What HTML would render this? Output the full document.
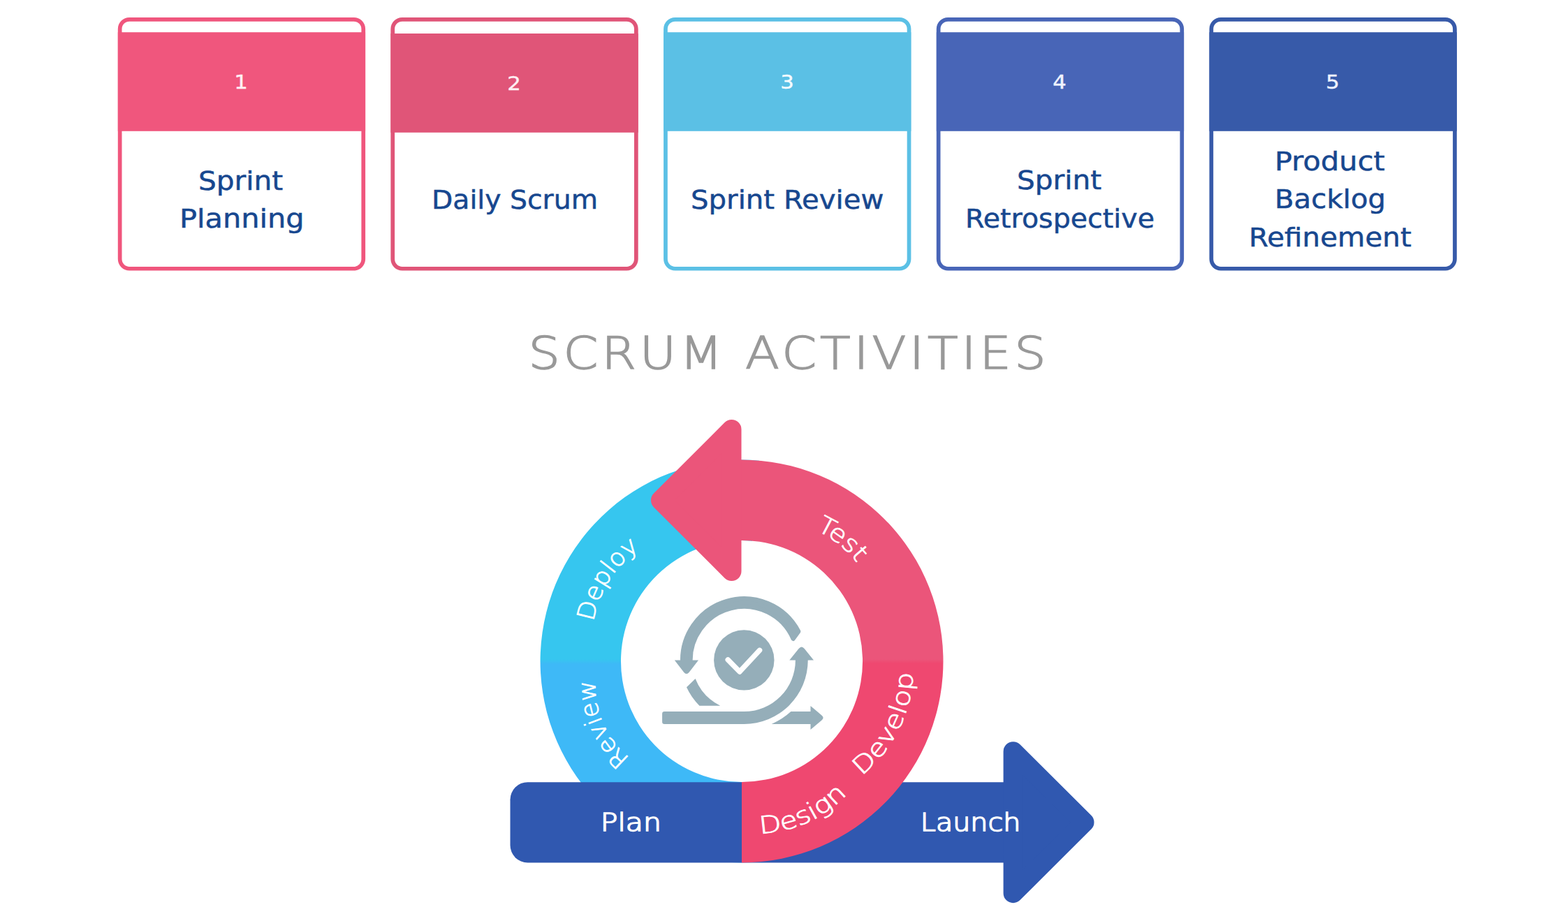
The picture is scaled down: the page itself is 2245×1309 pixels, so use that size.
<!DOCTYPE html>
<html lang="en">
<head>
<meta charset="utf-8">
<title>Scrum Activities</title>
<style>
html,body{margin:0;padding:0;background:#fff}
body{width:2245px;height:1309px;position:relative;overflow:hidden;font-family:"DejaVu Sans","Liberation Sans",sans-serif}
.card{position:absolute;top:25px;width:354px;height:363px}
.card .fr{position:absolute;left:-2px;top:-2px}
.card .hd{position:absolute;left:0;width:100%;color:#FFF1F4;font-size:27px;font-weight:400;text-align:center}
.card .hd span{position:absolute;left:0;width:100%;top:50%;line-height:40px;margin-top:-19.3px;-webkit-text-stroke:0.4px currentColor;transform:scaleX(1.14)}
.card p{position:absolute;margin:0;white-space:nowrap;color:#17478F;font-size:38px;line-height:54px;height:54px;-webkit-text-stroke:0.5px #17478F;transform-origin:0 0}
h1{position:absolute;left:0;top:0;margin:0;width:2245px;text-align:center;font-weight:200;color:#999999;white-space:nowrap}
svg{position:absolute;left:0;top:0}
svg text{font-family:"DejaVu Sans","Liberation Sans",sans-serif;fill:#fff}
</style>
</head>
<body>
<section class="card" style="left:168px"><svg class="fr" width="360" height="368" viewBox="0 0 360 368" aria-hidden="true"><rect x="5.65" y="4.85" width="348.60" height="356.90" rx="13.65" fill="#fff" stroke="#F0567D" stroke-width="5.7"/><rect x="2.80" y="23.20" width="354.30" height="141.60" fill="#F0567D"/></svg><div class="hd" style="top:21px;height:142px;color:#FFF0F4"><span>1</span></div><p style="left:116.1px;top:206.5px;transform:scaleX(1.0679)">Sprint</p><p style="left:89.1px;top:260.7px;transform:scaleX(1.0905)">Planning</p></section>
<section class="card" style="left:559px"><svg class="fr" width="360" height="368" viewBox="0 0 360 368" aria-hidden="true"><rect x="5.25" y="4.85" width="348.60" height="356.90" rx="13.65" fill="#fff" stroke="#E05578" stroke-width="5.7"/><rect x="2.40" y="25.00" width="354.30" height="141.80" fill="#E05578"/></svg><div class="hd" style="top:23px;height:142px;color:#FFEFF3"><span>2</span></div><p style="left:59.2px;top:233.5px;transform:scaleX(1.0351)">Daily Scrum</p></section>
<section class="card" style="left:950px"><svg class="fr" width="360" height="368" viewBox="0 0 360 368" aria-hidden="true"><rect x="4.95" y="4.85" width="348.60" height="356.90" rx="13.65" fill="#fff" stroke="#5BC0E5" stroke-width="5.7"/><rect x="2.10" y="23.20" width="354.30" height="141.60" fill="#5BC0E5"/></svg><div class="hd" style="top:21px;height:142px;color:#F4FBFF"><span>3</span></div><p style="left:39.1px;top:233.6px;transform:scaleX(1.0589)">Sprint Review</p></section>
<section class="card" style="left:1340px"><svg class="fr" width="360" height="368" viewBox="0 0 360 368" aria-hidden="true"><rect x="5.65" y="4.85" width="348.60" height="356.90" rx="13.65" fill="#fff" stroke="#4865B7" stroke-width="5.7"/><rect x="2.80" y="23.20" width="354.30" height="141.60" fill="#4865B7"/></svg><div class="hd" style="top:21px;height:142px;color:#F0F3FF"><span>4</span></div><p style="left:116.0px;top:206.2px;transform:scaleX(1.0696)">Sprint</p><p style="left:42.3px;top:260.7px;transform:scaleX(1.0401)">Retrospective</p></section>
<section class="card" style="left:1731px"><svg class="fr" width="360" height="368" viewBox="0 0 360 368" aria-hidden="true"><rect x="5.35" y="4.85" width="348.60" height="356.90" rx="13.65" fill="#fff" stroke="#375AA9" stroke-width="5.7"/><rect x="2.50" y="23.20" width="354.30" height="141.60" fill="#375AA9"/></svg><div class="hd" style="top:21px;height:142px;color:#EEF2FF"><span>5</span></div><p style="left:94.1px;top:178.7px;transform:scaleX(1.0937)">Product</p><p style="left:94.2px;top:233.3px;transform:scaleX(1.0593)">Backlog</p><p style="left:56.6px;top:287.8px;transform:scaleX(1.0634)">Refinement</p></section>
<h1 style="font-size:63.4px;letter-spacing:4.3px;line-height:100px;top:456.0px;left:6.5px;transform:scaleX(1.1265);-webkit-text-stroke:1.5px #999999">SCRUM ACTIVITIES</h1>
<svg width="2245" height="1309" viewBox="0 0 2245 1309">
<defs>
<linearGradient id="g-blue" gradientUnits="userSpaceOnUse" x1="0" y1="944" x2="0" y2="951"><stop offset="0" stop-color="#36C6EF"/><stop offset="1" stop-color="#3EB9F7"/></linearGradient>
<linearGradient id="g-pink" gradientUnits="userSpaceOnUse" x1="0" y1="944" x2="0" y2="950"><stop offset="0" stop-color="#EB557A"/><stop offset="1" stop-color="#EF4870"/></linearGradient>
<path id="tp-deploy" d="M866.06 988.4A157 157 0 0 1 1011.16 758.42"/>
<path id="tp-test" d="M1045.36 756.12A157 157 0 0 1 1258.18 925.41"/>
<path id="tp-review" d="M969.58 1113.36A131 131 0 0 1 877.65 905.92"/>
<path id="tp-develop" d="M1123.79 1152.67A195 195 0 0 0 1275.29 850.8"/>
<path id="tp-design" d="M982.67 1160.71A174.5 174.5 0 0 0 1258.14 1036.33"/>
</defs>
<path d="M1062 1235.4A288.4 288.4 0 1 1 1087.14 659.7L1077.08 774.66A173 173 0 1 0 1062 1120Z" fill="url(#g-blue)"/>
<path d="M755.5 1120.2H1440V1235.5H755.5A25 25 0 0 1 730.5 1210.5V1145.2A25 25 0 0 1 755.5 1120.2Z" fill="#3058B0"/>
<path d="M1450.6 1076.2L1552.5 1177.7L1450.6 1279.2Z" fill="#3058B0" stroke="#3058B0" stroke-width="28" stroke-linejoin="round"/>
<path d="M1046.91 659A288.4 288.4 0 1 1 1062 1235.4L1062 1120A173 173 0 1 0 1052.95 774.24Z" fill="url(#g-pink)"/>
<path d="M1047.5 615L946 716.5L1047.5 818Z" fill="#EB557A" stroke="#EB557A" stroke-width="28" stroke-linejoin="round"/>
<g fill="#95AEB9">
<circle cx="1065.3" cy="945.4" r="43.2"/>
<path d="M977.54 953.18A88.1 88.1 0 0 1 1143.16 904.28L1135.68 914.75A76.8 76.8 0 0 0 988.79 952.19Z" stroke="#95AEB9" stroke-width="6.4" stroke-linejoin="round"/>
<path d="M965.8 945.6L1000 945.6L986.89 962.47Q982.9 967.6 978.91 962.47Z"/>
<path d="M951.3 1019.1H1065.3A73.6 73.6 0 0 0 1138.9 945.5V944.0H1156.75V945.5A91.45 91.45 0 0 1 1065.3 1036.95H951.3A3.2 3.2 0 0 1 948.1 1033.75V1022.3A3.2 3.2 0 0 1 951.3 1019.1Z"/>
<path d="M1165 945.6L1130.3 945.6L1143.58 929.07Q1147.65 924 1151.72 929.07Z"/>
<path d="M1132.41 1019.1H1161V1036.95H1104.76A99.6 99.6 0 0 0 1132.41 1019.1Z"/>
<path d="M1160.5 1010.9L1160.5 1045.1L1176.5 1031.55Q1180.7 1028 1176.5 1024.45Z"/>
<path d="M995.6 971.9L983 984.3A91.3 91.3 0 0 0 1001.44 1010.75H1031.25A73.6 73.6 0 0 1 995.6 971.9Z"/>
</g>
<path d="M1042.2 944.8L1059 962L1087.6 931.3" fill="none" stroke="#fff" stroke-width="7.4" stroke-linecap="round" stroke-linejoin="round"/>
<text x="859.8" y="1189.6" font-size="34.8" font-weight="200" stroke="#fff" stroke-width="1.5" textLength="87" lengthAdjust="spacingAndGlyphs">Plan</text>
<text x="1317.8" y="1189.6" font-size="34.8" font-weight="200" stroke="#fff" stroke-width="1.5" textLength="143.6" lengthAdjust="spacingAndGlyphs">Launch</text>
<text font-size="34.5" font-weight="200" stroke="#fff" stroke-width="0.9" text-anchor="middle" textLength="126.8" lengthAdjust="spacingAndGlyphs"><textPath href="#tp-deploy" startOffset="50%" textLength="126.8" lengthAdjust="spacingAndGlyphs">Deploy</textPath></text>
<text font-size="34.5" font-weight="200" stroke="#fff" stroke-width="0.9" text-anchor="middle" textLength="76.0" lengthAdjust="spacingAndGlyphs"><textPath href="#tp-test" startOffset="50%" textLength="76.0" lengthAdjust="spacingAndGlyphs">Test</textPath></text>
<text font-size="34.5" font-weight="200" stroke="#fff" stroke-width="0.9" text-anchor="middle" textLength="126.1" lengthAdjust="spacingAndGlyphs"><textPath href="#tp-review" startOffset="50%" textLength="126.1" lengthAdjust="spacingAndGlyphs">Review</textPath></text>
<text font-size="34.5" font-weight="200" stroke="#fff" stroke-width="0.9" text-anchor="middle" textLength="170.0" lengthAdjust="spacingAndGlyphs"><textPath href="#tp-develop" startOffset="50%" textLength="170.0" lengthAdjust="spacingAndGlyphs">Develop</textPath></text>
<text font-size="34.5" font-weight="200" stroke="#fff" stroke-width="0.9" text-anchor="middle" textLength="140.7" lengthAdjust="spacingAndGlyphs"><textPath href="#tp-design" startOffset="50%" textLength="140.7" lengthAdjust="spacingAndGlyphs">Design</textPath></text>
</svg>
</body>
</html>
